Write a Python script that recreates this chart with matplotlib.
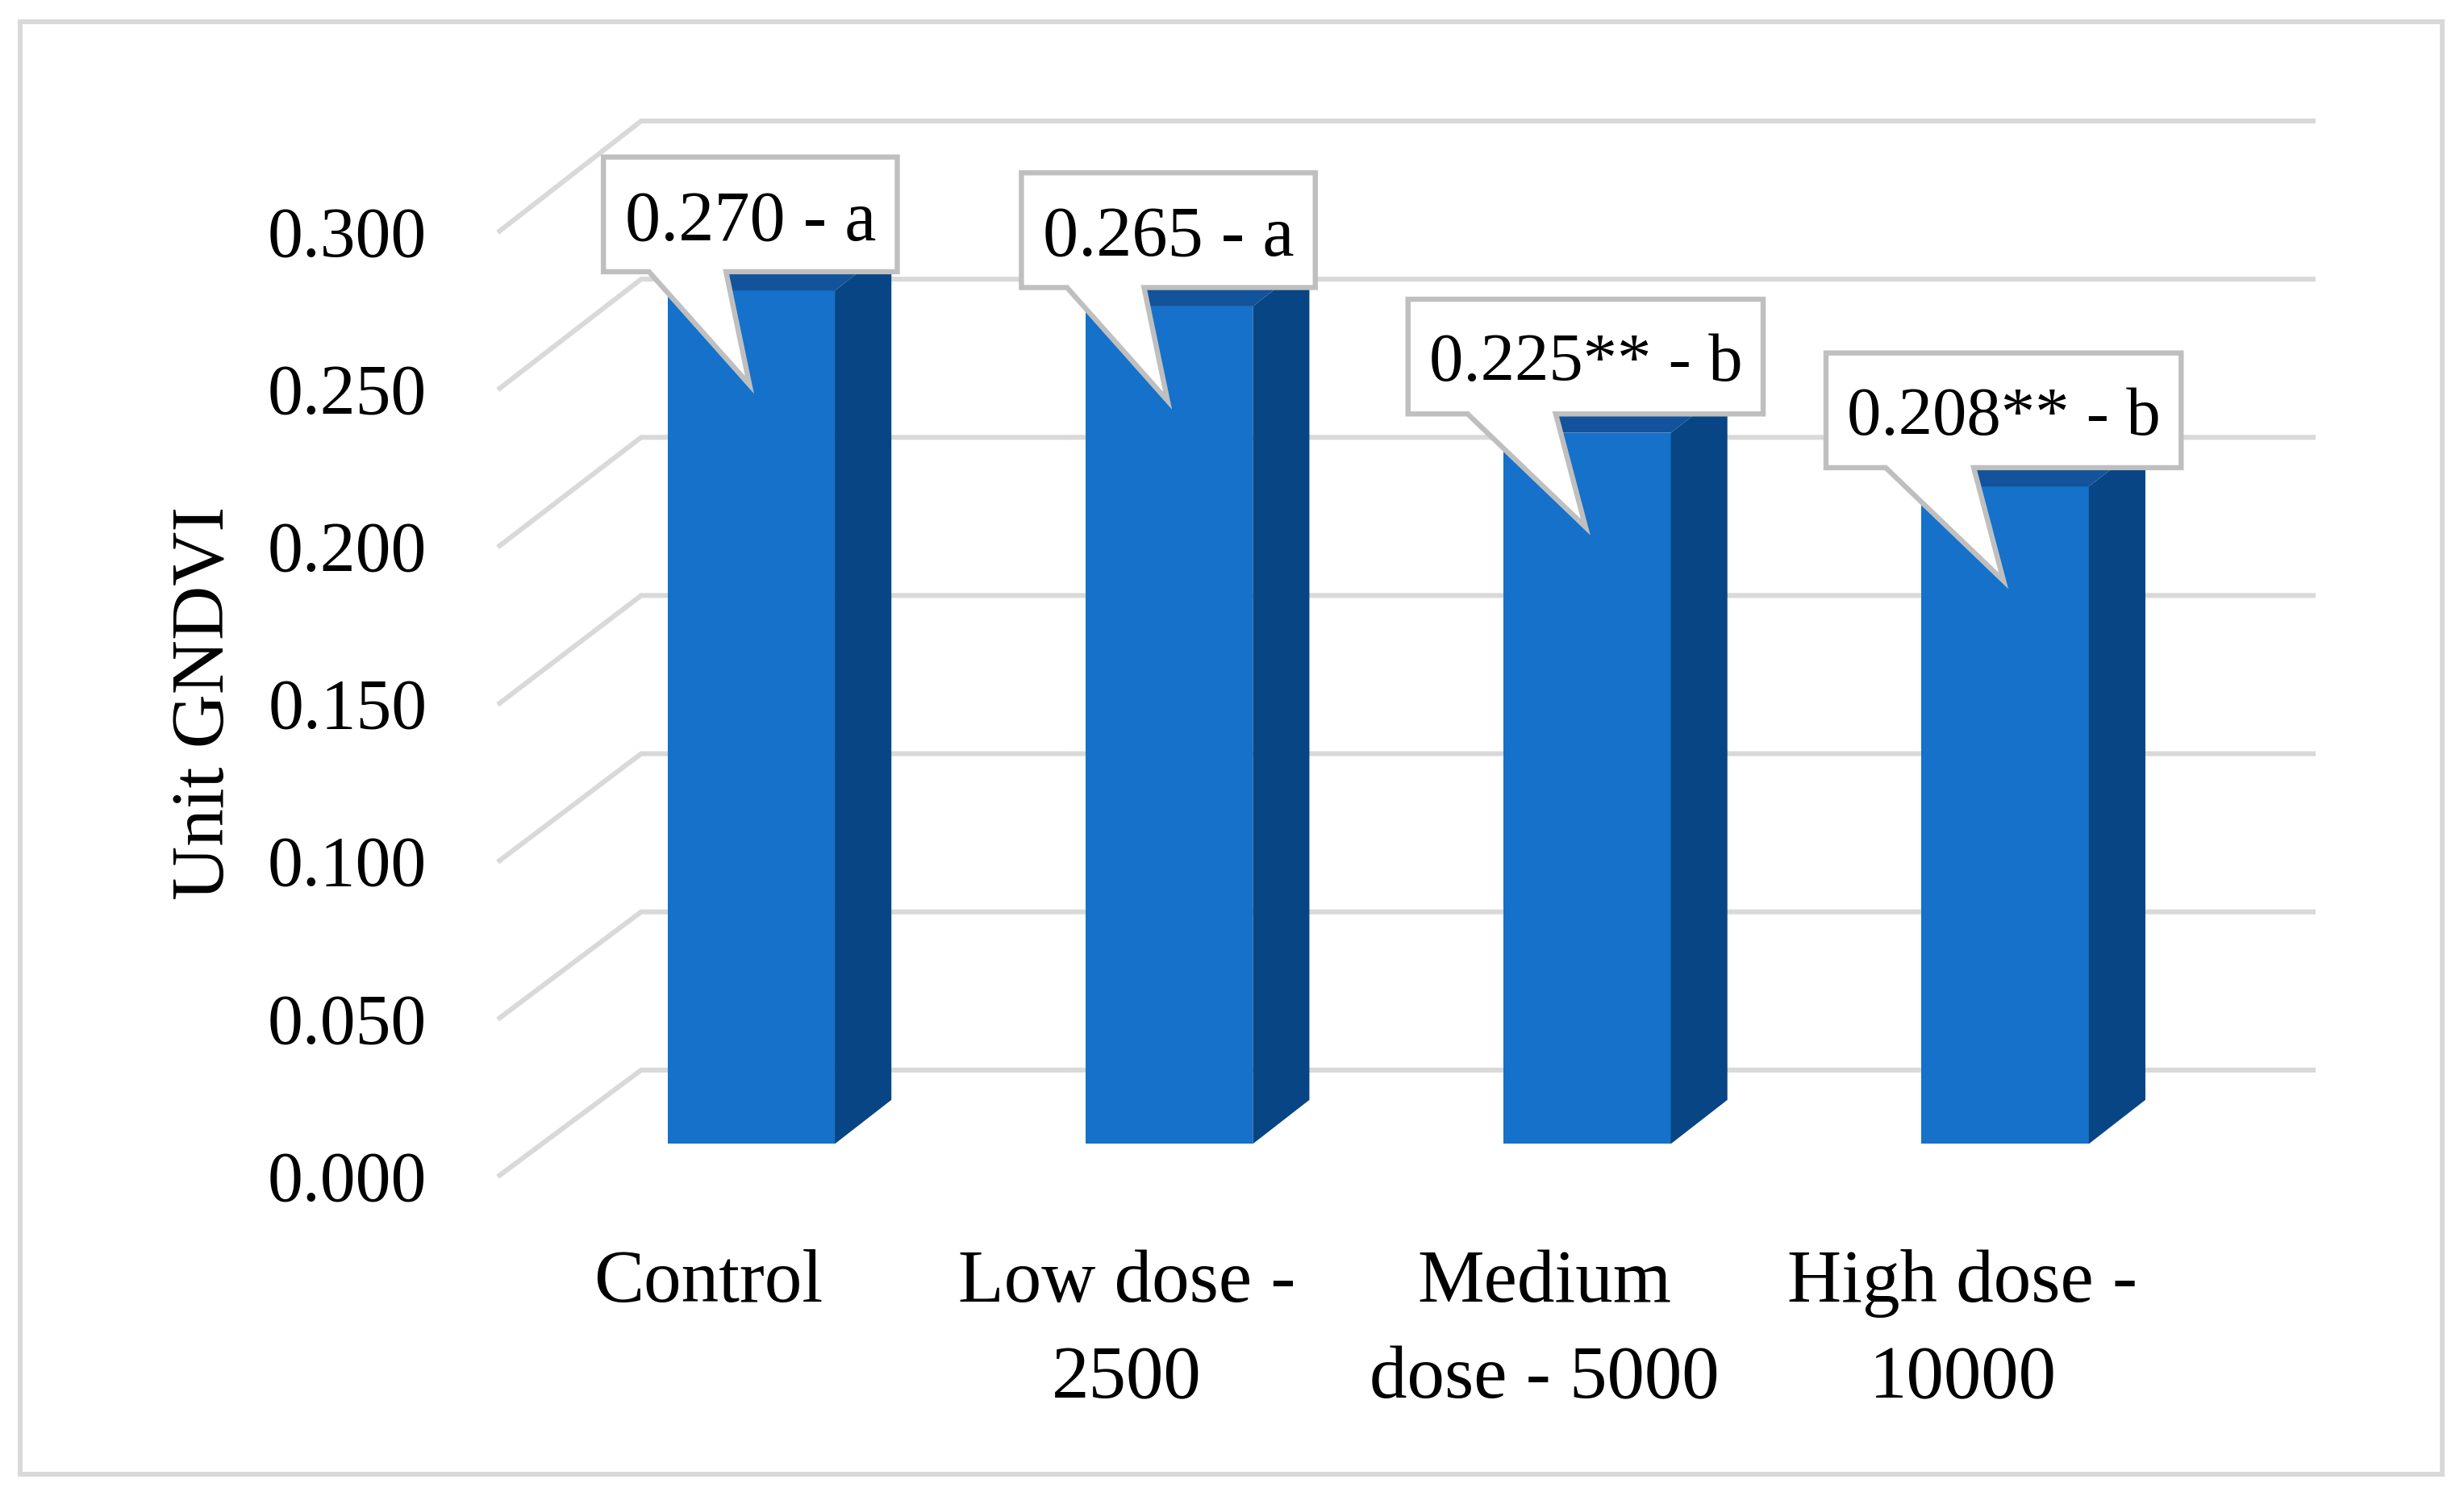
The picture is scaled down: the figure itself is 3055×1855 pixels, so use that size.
import matplotlib
matplotlib.use("Agg")
import matplotlib.pyplot as plt
from matplotlib.patches import Polygon, Rectangle

categories = ["Control", "Low dose -\n2500", "Medium\ndose - 5000", "High dose -\n10000"]
values = [0.270, 0.265, 0.225, 0.208]
callout_labels = ["0.270 - a", "0.265 - a", "0.225** - b", "0.208** - b"]
y_ticks = [0.0, 0.05, 0.10, 0.15, 0.20, 0.25, 0.30]
y_tick_labels = ["0.000", "0.050", "0.100", "0.150", "0.200", "0.250", "0.300"]

plt.rcParams["font.family"] = ["Liberation Serif", "DejaVu Serif"]
FS = 63
FS_WORDS = 67
GRID = "#D9D9D9"
FRONT, SIDE, TOP = "#1571C9", "#084584", "#12539B"
EDGE = "#BFBFBF"

W, H = 3055, 1855
K = 3055 / 1568  # preview units to pixels
fig = plt.figure(figsize=(W / 100, H / 100), dpi=100, facecolor="white")

# outer frame
fig.add_artist(Rectangle((13 * K / W, 1 - 938 * K / H), 1541 * K / W, 924 * K / H,
                         transform=fig.transFigure, fill=False, ec=GRID, lw=4.3))

# front plane of the 3D chart
L, R, T, B = 318, 1382, 147, 748
ax = fig.add_axes([L * K / W, 1 - B * K / H, (R - L) * K / W, (B - T) * K / H])
ax.set_xlim(-0.5, 3.5)
ax.set_ylim(0, 0.3)
ax.patch.set_alpha(0)
for s in ax.spines.values():
    s.set_visible(False)

ux = 4.0 / (R - L)       # category units per preview unit
uy = 0.3 / (B - T)       # value units per preview unit
DX = 90 * ux             # floor depth

for v in y_ticks:
    back = v + (67 + 3 * v / 0.3) * uy  # the rear wall is drawn slightly larger
    ax.plot([-0.5, -0.5 + DX, 3.5 + DX], [v, back, back], color=GRID, lw=4.4,
            clip_on=False, zorder=1, solid_joinstyle="miter")

bw = 106.5 * ux
f_dx, f_dy = 27 * ux, 20 * uy
s_dx, s_dy = 36 * ux, 28 * uy
PERSPECTIVE = 1.004      # bars stand a little behind the front plane
for i, v in enumerate(values):
    x0 = i + f_dx - bw / 2
    x1 = x0 + bw
    b, t = f_dy, f_dy + v * PERSPECTIVE
    ax.add_patch(Polygon([(x0, b), (x1, b), (x1, t), (x0, t)], fc=FRONT, ec="none", clip_on=False, zorder=3))
    ax.add_patch(Polygon([(x1, b), (x1 + s_dx, b + s_dy), (x1 + s_dx, t + s_dy), (x1, t)],
                         fc=SIDE, ec="none", clip_on=False, zorder=3))
    ax.add_patch(Polygon([(x0, t), (x1, t), (x1 + s_dx, t + s_dy), (x0 + s_dx, t + s_dy)],
                         fc=TOP, ec="none", clip_on=False, zorder=3))

    # callout
    wide = "**" in callout_labels[i]
    lft, rgt = (113, 113) if wide else (93, 94)
    b0, b1 = (75, 19) if wide else (64, 15)
    tx, ty = i + f_dx - 1 * ux, t - 60 * uy
    top, bot = ty + 145 * uy, ty + 72 * uy
    pts = [(tx - lft * ux, top), (tx + rgt * ux, top), (tx + rgt * ux, bot), (tx - b1 * ux, bot),
           (tx, ty), (tx - b0 * ux, bot), (tx - lft * ux, bot)]
    ax.add_patch(Polygon(pts, closed=True, fc="white", ec=EDGE, lw=4.6, clip_on=False, zorder=5,
                         joinstyle="miter"))
    ax.text(tx - (lft - rgt) / 2 * ux, (top + bot) / 2 - 5 * uy, callout_labels[i],
            fontsize=61 if wide else FS + 0.5, ha="center", va="center", color="black", zorder=6)

ax.set_xticks(range(4))
ax.set_xticklabels(categories, fontsize=FS_WORDS, linespacing=1.53)
ax.set_yticks(y_ticks)
ax.set_yticklabels(y_tick_labels, fontsize=FS)
ax.tick_params(axis="both", length=0)
ax.tick_params(axis="x", pad=66)
ax.tick_params(axis="y", pad=65)
ax.set_ylabel("Unit GNDVI", fontsize=FS_WORDS, labelpad=25)

fig.savefig("out.png", dpi=100, facecolor="white")
